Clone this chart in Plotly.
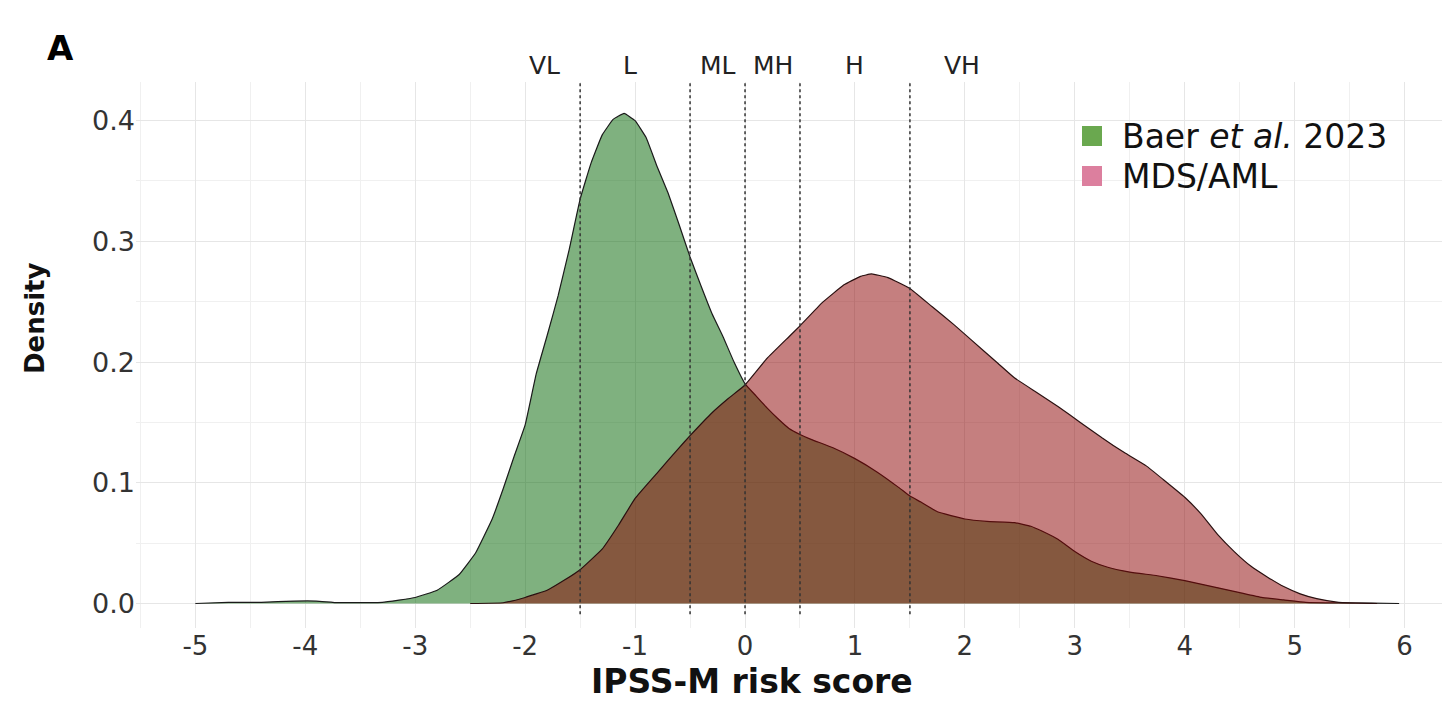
import plotly.graph_objects as go

# ---- data ----
baer_x = [-5.0, -4.7, -4.4, -4.1, -3.9, -3.7, -3.3, -3.0, -2.8, -2.6, -2.45, -2.3, -2.2, -2.1,
          -2.0, -1.9, -1.8, -1.7, -1.6, -1.5, -1.4, -1.3, -1.2, -1.1, -1.0, -0.9, -0.8, -0.7,
          -0.6, -0.5, -0.4, -0.3, -0.2, -0.1, 0.0, 0.1, 0.2, 0.3, 0.4, 0.5, 0.6, 0.8, 1.0, 1.2,
          1.4, 1.5, 1.6, 1.75, 2.0, 2.2, 2.45, 2.6, 2.7, 2.85, 3.0, 3.15, 3.3, 3.5, 3.75, 4.0,
          4.25, 4.5, 4.7, 4.9, 5.1, 5.4, 5.7, 5.95]
baer_y = [0.0, 0.001, 0.001, 0.002, 0.002, 0.0007, 0.001, 0.005, 0.011, 0.024, 0.042, 0.07, 0.095, 0.122,
          0.148, 0.19, 0.222, 0.255, 0.293, 0.335, 0.365, 0.388, 0.401, 0.406, 0.400, 0.386, 0.362, 0.340,
          0.314, 0.287, 0.263, 0.240, 0.221, 0.200, 0.182, 0.172, 0.162, 0.153, 0.145, 0.140, 0.136, 0.129, 0.120, 0.109,
          0.096, 0.089, 0.084, 0.076, 0.070, 0.068, 0.067, 0.064, 0.060, 0.053, 0.043, 0.035, 0.030, 0.026, 0.023, 0.019,
          0.014, 0.009, 0.005, 0.003, 0.001, 0.0005, 0.0003, 0.0]

mds_x = [-2.5, -2.2, -2.0, -1.8, -1.65, -1.5, -1.3, -1.15, -1.0, -0.8, -0.6, -0.5, -0.3, -0.15,
         0.0, 0.2, 0.4, 0.5, 0.7, 0.9, 1.05, 1.15, 1.3, 1.5, 1.7, 1.9, 2.05, 2.3, 2.45, 2.65,
         2.85, 3.05, 3.25, 3.45, 3.65, 3.8, 4.0, 4.15, 4.3, 4.45, 4.6, 4.75, 4.9, 5.05, 5.2,
         5.4, 5.75]
mds_y = [0.0, 0.0006, 0.005, 0.011, 0.019, 0.028, 0.045, 0.065, 0.087, 0.108, 0.129, 0.139, 0.158, 0.170,
         0.181, 0.203, 0.221, 0.230, 0.249, 0.264, 0.271, 0.273, 0.270, 0.261, 0.246, 0.231, 0.219, 0.199, 0.187, 0.175,
         0.163, 0.150, 0.137, 0.125, 0.114, 0.103, 0.088, 0.074, 0.057, 0.043, 0.031, 0.022, 0.014, 0.008, 0.004,
         0.001, 0.0]

cutoffs = [-1.5, -0.5, 0.0, 0.5, 1.5]
risk_labels = ["VL", "L", "ML", "MH", "H", "VH"]
risk_label_x = [-1.82, -1.05, -0.25, 0.25, 1.0, 1.97]
x_ticks = [-5, -4, -3, -2, -1, 0, 1, 2, 3, 4, 5, 6]
y_ticks = [0.0, 0.1, 0.2, 0.3, 0.4]
series_names = ["Baer <i>et al.</i> 2023", "MDS/AML"]
legend_colors = ["#6aa84f", "#dc7f9e"]

FONT = "DejaVu Sans"
W, H = 1450, 703
ML, MR, MT, MB = 136, 8, 82, 75
PW, PH = W - ML - MR, H - MT - MB


def px_x(p):
    return (p - ML) / PW


def px_y(p):
    return (H - MB - p) / PH


fig = go.Figure()
fig.add_trace(go.Scatter(x=baer_x, y=baer_y, mode="lines", fill="tozeroy", name="Baer et al. 2023",
                         fillcolor="rgba(0,100,0,0.5)",
                         line=dict(color="#1a1a1a", width=1.2, shape="spline", smoothing=0.3),
                         showlegend=False, hoverinfo="skip"))
fig.add_trace(go.Scatter(x=mds_x, y=mds_y, mode="lines", fill="tozeroy", name="MDS/AML",
                         fillcolor="rgba(139,0,0,0.5)",
                         line=dict(color="#2a1010", width=1.2, shape="spline", smoothing=0.3),
                         showlegend=False, hoverinfo="skip"))

for c in cutoffs:
    fig.add_shape(type="line", x0=c, x1=c, y0=-0.009, y1=0.432, xref="x", yref="y",
                  line=dict(color="#333333", width=1.5, dash="dot"), layer="above")

for lab, lx in zip(risk_labels, risk_label_x):
    fig.add_annotation(x=lx, y=px_y(65), xref="x", yref="paper", text=lab, showarrow=False,
                       font=dict(family=FONT, size=25, color="#222222"), yanchor="middle")

# legend (keys + labels)
for i, (name, col) in enumerate(zip(series_names, legend_colors)):
    cy = 136 + 40 * i
    fig.add_shape(type="rect", xref="paper", yref="paper",
                  x0=px_x(1082), x1=px_x(1102), y0=px_y(cy + 10), y1=px_y(cy - 10),
                  fillcolor=col, line=dict(width=0))
    fig.add_annotation(x=px_x(1120), y=px_y(cy), xref="paper", yref="paper", text=name,
                       showarrow=False, xanchor="left", yanchor="middle",
                       font=dict(family=FONT, size=33, color="#111111"))

fig.update_layout(
    width=W, height=H,
    margin=dict(l=ML, r=MR, t=MT, b=MB),
    paper_bgcolor="white", plot_bgcolor="white",
    showlegend=False,
    xaxis=dict(range=[-5.54, 6.34], tickvals=x_ticks, ticktext=[str(v) for v in x_ticks],
               showgrid=True, gridcolor="#e6e6e6", gridwidth=1.3, zeroline=False, showline=False,
               ticks="", tickfont=dict(family=FONT, size=26, color="#333333"),
               minor=dict(dtick=0.5, showgrid=True, gridcolor="#f0f0f0", gridwidth=1.2)),
    yaxis=dict(range=[-0.0203, 0.432], tickvals=y_ticks, ticktext=[f"{v:.1f}" for v in y_ticks],
               showgrid=True, gridcolor="#e6e6e6", gridwidth=1.3, zeroline=False, showline=False,
               ticks="", tickfont=dict(family=FONT, size=27, color="#333333"),
               minor=dict(dtick=0.05, showgrid=True, gridcolor="#f0f0f0", gridwidth=1.2)),
)

# axis titles and panel tag
fig.add_annotation(x=px_x(752), y=px_y(681), xref="paper", yref="paper",
                   text="<b>IPSS-M risk score</b>", showarrow=False, yanchor="middle",
                   font=dict(family=FONT, size=33, color="#111111"))
fig.add_annotation(x=px_x(35), y=px_y(318), xref="paper", yref="paper",
                   text="<b>Density</b>", showarrow=False, textangle=-90, xanchor="center",
                   font=dict(family=FONT, size=26, color="#111111"))
fig.add_annotation(x=px_x(45), y=px_y(26), xref="paper", yref="paper",
                   text="<b>A</b>", showarrow=False, font=dict(family=FONT, size=34, color="#000000"))

fig.write_html("out.html")
